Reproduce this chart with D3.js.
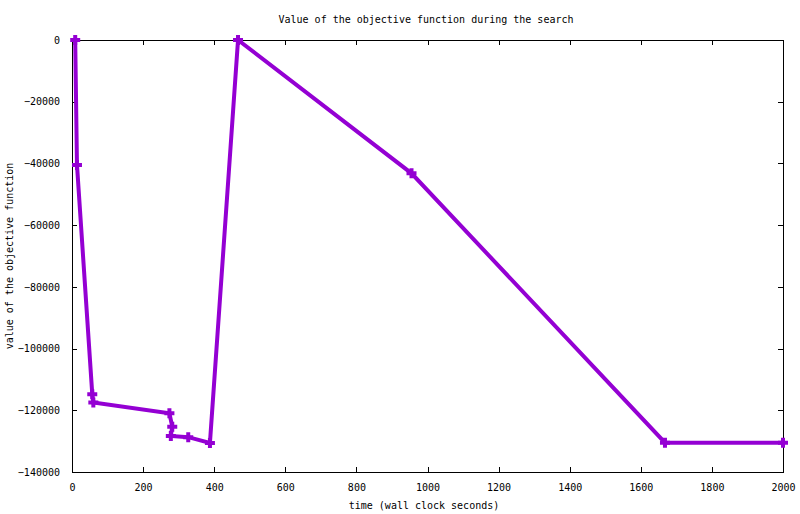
<!DOCTYPE html>
<html><head><meta charset="utf-8">
<script src="https://cdn.jsdelivr.net/npm/d3@7"></script>
<style>
html,body{margin:0;padding:0;background:#fff;}
text{font-family:"DejaVu Sans Mono",monospace;font-size:10px;fill:#000;}
</style></head>
<body>
<svg id="c" width="800" height="514"></svg>
<script>
const times  = [9, 14, 57, 60, 274, 282, 278, 327, 388, 467, 955, 1668, 2000];
const values = [0, -40500, -114800, -117500, -121000, -125300, -128300, -128700, -130600, 0, -43200, -130500, -130500];
const xTicks = [0,200,400,600,800,1000,1200,1400,1600,1800,2000];
const yTicks = [0,-20000,-40000,-60000,-80000,-100000,-120000,-140000];
const title = "Value of the objective function during the search";
const xTitle = "time (wall clock seconds)";
const yTitle = "value of the objective function";

const W=800,H=514, L=72, R=783, T=40, B=472;
const svg=d3.select("#c");
svg.append("rect").attr("width",W).attr("height",H).attr("fill","#fff");
const x=d3.scaleLinear().domain([0,2000]).range([L,R]);
const y=d3.scaleLinear().domain([-140000,0]).range([B,T]);
const tl=5;

const g=svg.append("g").attr("shape-rendering","crispEdges");
const xb=d3.axisBottom(x).tickValues(xTicks).tickSizeInner(-tl).tickSizeOuter(0).tickPadding(12).tickFormat(d3.format("d"));
g.append("g").attr("transform",`translate(0,${B})`).call(xb);
const xt=d3.axisTop(x).tickValues(xTicks).tickSizeInner(-tl).tickSizeOuter(0).tickFormat("");
g.append("g").attr("transform",`translate(0,${T})`).call(xt);
const yl=d3.axisLeft(y).tickValues(yTicks).tickSizeInner(-tl).tickSizeOuter(0).tickPadding(12).tickFormat(d3.format("d"));
g.append("g").attr("transform",`translate(${L},0)`).call(yl);
const yr=d3.axisRight(y).tickValues(yTicks).tickSizeInner(-tl).tickSizeOuter(0).tickFormat("");
g.append("g").attr("transform",`translate(${R},0)`).call(yr);
g.selectAll(".domain").remove();
g.selectAll(".tick line").attr("stroke","#000");
g.selectAll(".tick text").attr("fill","#000").style("font-family",'"DejaVu Sans Mono",monospace').style("font-size","10px");
g.append("rect").attr("x",L+0.5).attr("y",T+0.5).attr("width",R-L).attr("height",B-T).attr("fill","none").attr("stroke","#000");

const data=times.map((t,i)=>[t,values[i]]);
const col="#9400D3";
svg.append("path").datum(data).attr("fill","none").attr("stroke",col).attr("stroke-width",4)
  .attr("stroke-linejoin","miter").attr("d",d3.line().x(d=>x(d[0])).y(d=>y(d[1])));
const s=5;
svg.append("g").selectAll("path.pt").data(data).join("path").attr("class","pt")
  .attr("fill","none").attr("stroke",col).attr("stroke-width",4)
  .attr("d",d=>{const px=x(d[0]),py=y(d[1]);return `M${px-s},${py}H${px+s}M${px},${py-s}V${py+s}`;});

svg.append("text").attr("x",426).attr("y",23).attr("text-anchor","middle").text(title);
svg.append("text").attr("x",424).attr("y",509).attr("text-anchor","middle").text(xTitle);
svg.append("text").attr("transform","translate(13,256) rotate(-90)").attr("text-anchor","middle").text(yTitle);
</script>
</body></html>
